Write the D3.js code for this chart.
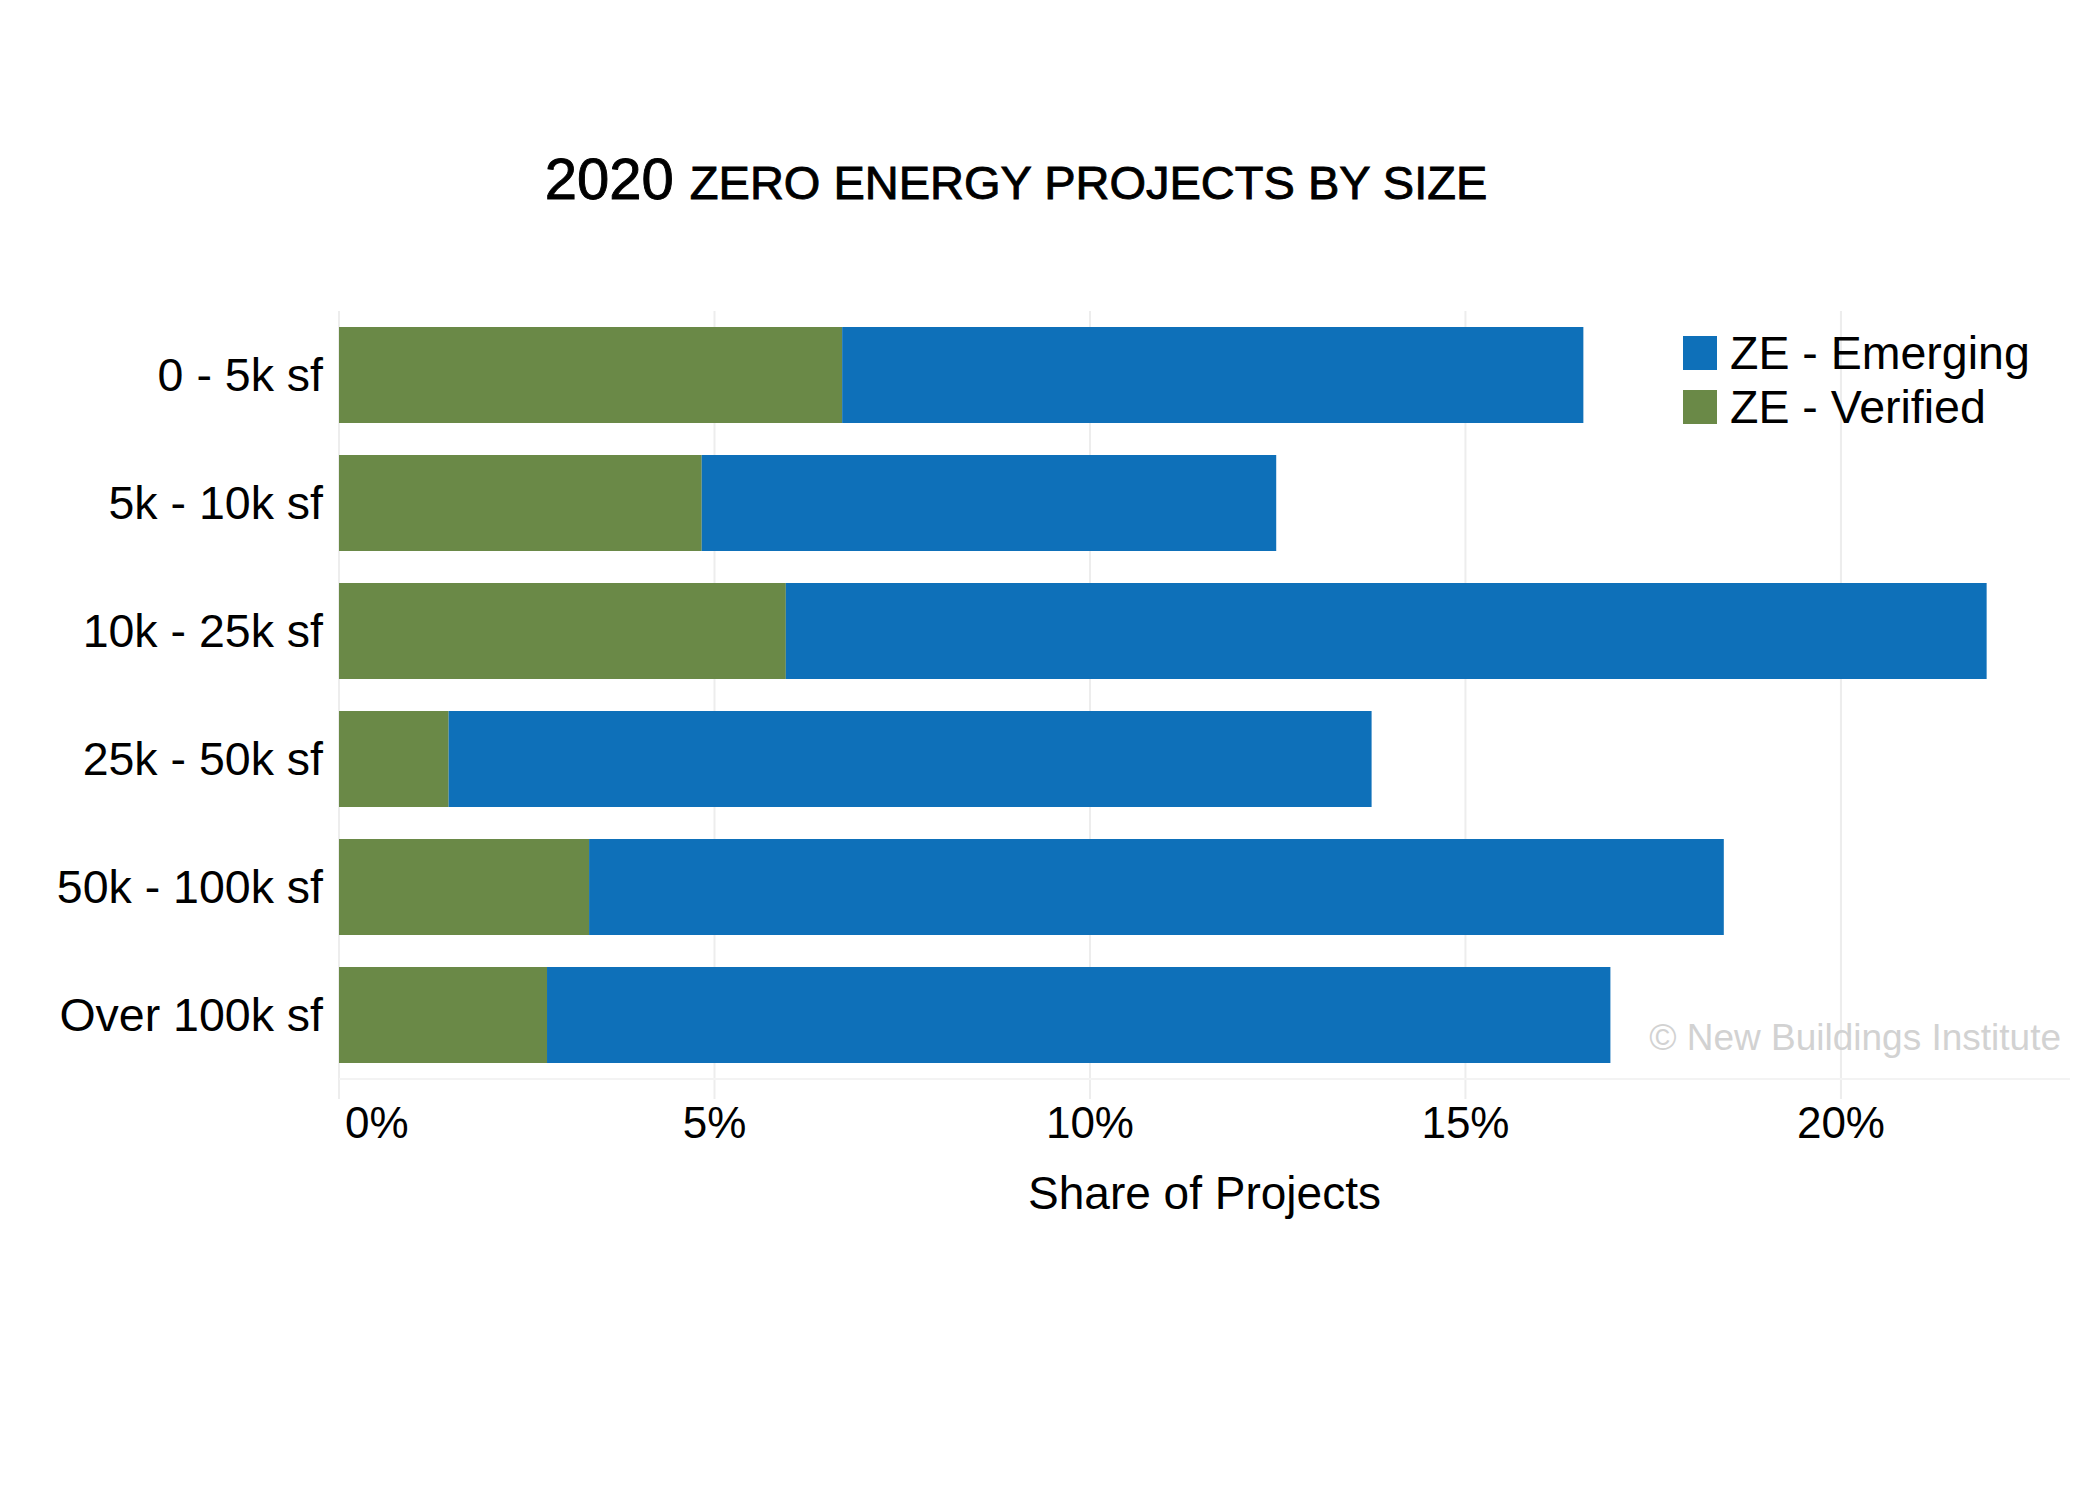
<!DOCTYPE html>
<html>
<head>
<meta charset="utf-8">
<script src="https://cdn.jsdelivr.net/npm/d3@7"></script>
<style>
  html, body { margin: 0; padding: 0; background: #fff; }
  svg { display: block; font-family: "Liberation Sans", Arial, Helvetica, sans-serif; }
</style>
</head>
<body>
<script>
// ---- data (percent share of projects) ----
const categories = ["0 - 5k sf", "5k - 10k sf", "10k - 25k sf", "25k - 50k sf", "50k - 100k sf", "Over 100k sf"];
const verified = [6.70, 4.83, 5.95, 1.46, 3.33, 2.77];
const emerging = [9.87, 7.65, 15.99, 12.29, 15.11, 14.16];
const seriesNames = ["ZE - Emerging", "ZE - Verified"];
const xTicks = [0, 5, 10, 15, 20];
const xTickLabels = ["0%", "5%", "10%", "15%", "20%"];

const W = 2100, H = 1500;
const colors = { verified: "#6a8947", emerging: "#0e70b9" };

const svg = d3.select("body").append("svg").attr("width", W).attr("height", H);

const plot = { left: 339, right: 2070, top: 311, bottom: 1079 };

const x = d3.scaleLinear().domain([0, 23.05]).range([plot.left, plot.right]);
const y = d3.scaleBand().domain(categories).range([plot.top, plot.bottom])
  .paddingInner(0.25).paddingOuter(0.125);

// gridlines
svg.append("g").selectAll("line").data(xTicks).join("line")
  .attr("x1", d => x(d)).attr("x2", d => x(d))
  .attr("y1", plot.top).attr("y2", plot.bottom + 20)
  .attr("stroke", "#ededed").attr("stroke-width", 2);
svg.append("line")
  .attr("x1", plot.left).attr("x2", plot.right)
  .attr("y1", plot.bottom).attr("y2", plot.bottom)
  .attr("stroke", "#f3f3f3").attr("stroke-width", 2);

// bars
const rows = categories.map((c, i) => ({ c, v: verified[i], e: emerging[i] }));
const g = svg.append("g");
g.selectAll("rect.v").data(rows).join("rect").attr("class", "v")
  .attr("x", x(0)).attr("y", d => y(d.c))
  .attr("width", d => x(d.v) - x(0)).attr("height", y.bandwidth())
  .attr("fill", colors.verified);
g.selectAll("rect.e").data(rows).join("rect").attr("class", "e")
  .attr("x", d => x(d.v)).attr("y", d => y(d.c))
  .attr("width", d => x(d.v + d.e) - x(d.v)).attr("height", y.bandwidth())
  .attr("fill", colors.emerging);

// y labels
svg.append("g").selectAll("text").data(categories).join("text")
  .attr("x", 323).attr("y", d => y(d) + y.bandwidth() / 2 + 16)
  .attr("text-anchor", "end").attr("font-size", 46.5).attr("fill", "#000")
  .text(d => d);

// x tick labels
svg.append("g").selectAll("text").data(xTicks).join("text")
  .attr("x", (d, i) => i === 0 ? x(d) + 6 : x(d))
  .attr("y", 1138)
  .attr("text-anchor", (d, i) => i === 0 ? "start" : "middle")
  .attr("font-size", 44).attr("fill", "#000")
  .text((d, i) => xTickLabels[i]);

// axis title
svg.append("text").attr("x", (plot.left + plot.right) / 2).attr("y", 1209)
  .attr("text-anchor", "middle").attr("font-size", 46).attr("fill", "#000")
  .text("Share of Projects");

// title
const title = svg.append("text").attr("x", 1016).attr("y", 199)
  .attr("text-anchor", "middle").attr("fill", "#000")
  .attr("stroke", "#000").attr("stroke-width", 0.9);
title.append("tspan").attr("font-size", 58).text("2020 ");
title.append("tspan").attr("font-size", 47).text("ZERO ENERGY PROJECTS BY SIZE");

// legend
const legend = svg.append("g");
const legItems = [{ n: seriesNames[0], c: colors.emerging }, { n: seriesNames[1], c: colors.verified }];
legItems.forEach((d, i) => {
  legend.append("rect").attr("x", 1683).attr("y", 336 + i * 54)
    .attr("width", 34).attr("height", 34).attr("fill", d.c);
  legend.append("text").attr("x", 1730).attr("y", 369 + i * 54)
    .attr("font-size", 46.5).attr("fill", "#000").text(d.n);
});

// watermark
svg.append("text").attr("x", 2061).attr("y", 1050).attr("text-anchor", "end")
  .attr("font-size", 37).attr("fill", "#d2d2d2").text("© New Buildings Institute");
</script>
</body>
</html>
